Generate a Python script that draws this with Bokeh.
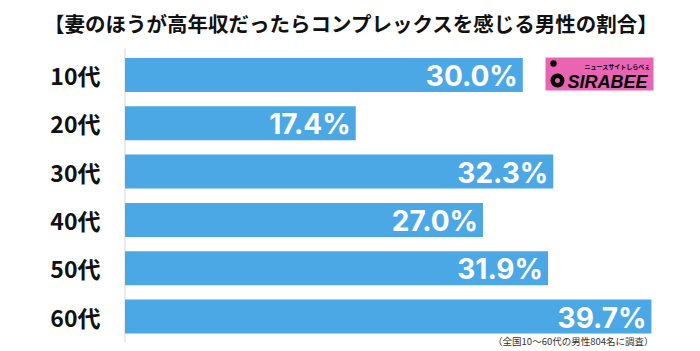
from bokeh.plotting import figure
from bokeh.models import Range1d
from bokeh.core.properties import value
from bokeh.embed import file_html
from bokeh.resources import INLINE

# ---- data ----
categories = ["10代", "20代", "30代", "40代", "50代", "60代"]
percentages = [30.0, 17.4, 32.3, 27.0, 31.9, 39.7]
pct_labels = ["30.0%", "17.4%", "32.3%", "27.0%", "31.9%", "39.7%"]
title_text = "【妻のほうが高年収だったらコンプレックスを感じる男性の割合】"
note_text = "（全国10～60代の男性804名に調査）"

# ---- layout helpers (pixel -> data) ----
W, H = 700, 351
SCALE = 13.26      # px per percent
X0 = 124.5         # pixel x of 0%
def dx(px):
    return (px - X0) / SCALE

ROW0, ROWSTEP, BAR_H = 74.5, 48.3, 34
ys = [ROW0 + ROWSTEP * i for i in range(len(categories))]

p = figure(width=W, height=H, output_backend="svg", toolbar_location=None,
           x_range=Range1d(dx(0), dx(W)), y_range=Range1d(H, 0),
           x_axis_type=None, y_axis_type=None, min_border=0)
p.outline_line_color = None
p.xgrid.visible = False
p.ygrid.visible = False
p.background_fill_color = "white"
p.border_fill_color = "white"

# axis line
p.segment(x0=[0], y0=[48], x1=[0], y1=[342], line_color="#d6d6d6", line_width=1)

# bars
BAR_COLOR = "#4BA8E5"
p.hbar(y=ys, left=0, right=percentages, height=BAR_H, fill_color=BAR_COLOR, line_color=None)

# value labels
p.text(x=percentages, y=ys, text=pct_labels, x_offset=-5, y_offset=1,
       text_align="right", text_baseline="middle", text_color="white",
       text_font=value("Inter"), text_font_style="bold", text_font_size="28px")

# category labels
p.text(x=[dx(100)] * len(categories), y=ys, text=categories,
       text_align="right", text_baseline="middle", text_color="#111111",
       text_font=value("Noto Sans CJK JP"), text_font_style="bold", text_font_size="23px")

# title
p.text(x=[dx(351)], y=[22], text=[title_text], text_align="center", text_baseline="middle",
       text_color="#111111", text_font=value("Noto Sans CJK JP"), text_font_style="bold",
       text_font_size="20.5px")

# note
p.text(x=[dx(653)], y=[340], text=[note_text], text_align="right", text_baseline="middle",
       text_color="#333333", text_font=value("Noto Sans CJK JP"), text_font_size="9.5px")

# logo
p.quad(left=[dx(545)], right=[dx(653)], top=[57], bottom=[90], fill_color="#E965B4", line_color=None)
p.circle(x=[dx(553)], y=[63], radius=3.2 / SCALE, fill_color="black", line_color=None)
p.annulus(x=[dx(557)], y=[80], inner_radius=2.5 / SCALE, outer_radius=7 / SCALE,
          fill_color="black", line_color=None)
p.text(x=[dx(567)], y=[81], text=["SIRABEE"], text_align="left", text_baseline="middle",
       text_color="black", text_font=value("Liberation Sans"), text_font_style="bold italic",
       text_font_size="18px")
p.text(x=[dx(584)], y=[66], text=["ニュースサイトしらべぇ"], text_align="left", text_baseline="middle",
       text_color="black", text_font=value("Noto Sans CJK JP"), text_font_style="bold",
       text_font_size="6px")

open("out.html", "w").write(file_html(p, INLINE))
